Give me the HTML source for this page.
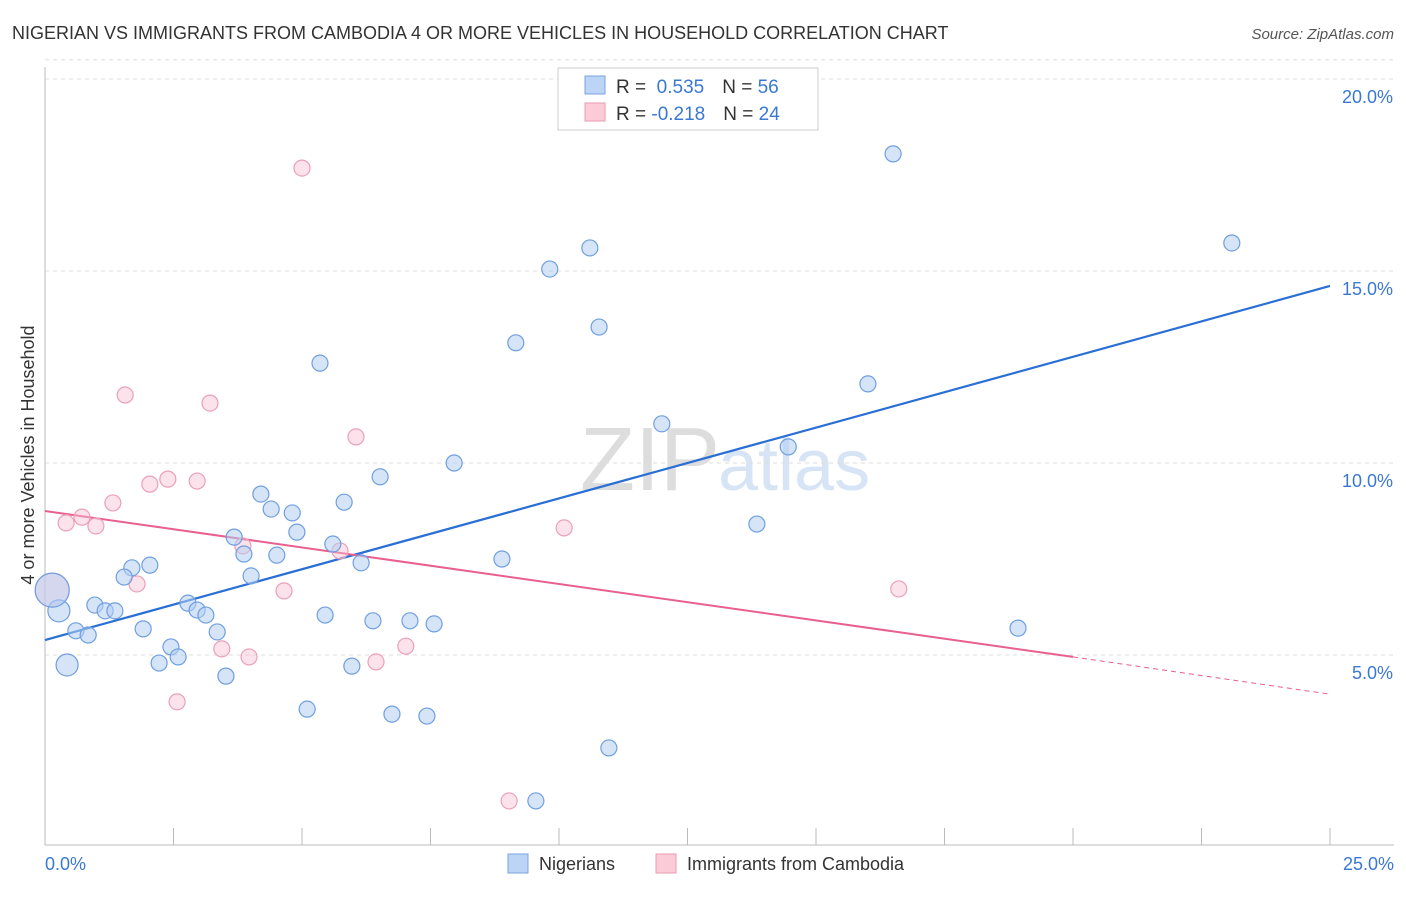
<!DOCTYPE html>
<html><head><meta charset="utf-8"><style>
body{margin:0;background:#fff;font-family:"Liberation Sans",sans-serif;}
svg text{font-family:"Liberation Sans",sans-serif;}
</style></head><body>
<svg id="chart" width="1406" height="892">
<text x="12" y="39" font-size="18" fill="#333">NIGERIAN VS IMMIGRANTS FROM CAMBODIA 4 OR MORE VEHICLES IN HOUSEHOLD CORRELATION CHART</text>
<text x="1394" y="39" font-size="15" fill="#555" font-style="italic" text-anchor="end">Source: ZipAtlas.com</text>
<text x="720" y="490" font-size="90" fill="#ddd" font-family="Liberation Serif" text-anchor="end">ZIP</text>
<text x="718" y="490" font-size="72" fill="#d6e4f5">atlas</text>
<g id="grid"></g>
<g id="axes"></g>
<g id="lines"></g>
<g id="pts"></g>
<text transform="translate(34,455) rotate(-90)" font-size="18" fill="#333" text-anchor="middle">4 or more Vehicles in Household</text>
<text x="45" y="870" font-size="18" fill="#3a78d4">0.0%</text>
<text x="1394" y="870" font-size="18" fill="#3a78d4" text-anchor="end">25.0%</text>
<g>
<rect x="558" y="68" width="260" height="62" fill="#fff" stroke="#ccc"/>
<rect x="585" y="76" width="20" height="18" fill="#bcd4f5" stroke="#7aa5e0"/>
<rect x="585" y="103" width="20" height="18" fill="#fbcbd8" stroke="#ec9ab2"/>
<text x="616" y="93" font-size="19" fill="#333">R = <tspan fill="#3a78d4">&#160;0.535</tspan><tspan dx="18">N = </tspan><tspan fill="#3a78d4">56</tspan></text>
<text x="616" y="120" font-size="19" fill="#333">R = <tspan fill="#3a78d4">-0.218</tspan><tspan dx="18">N = </tspan><tspan fill="#3a78d4">24</tspan></text>
</g>
<g>
<rect x="508" y="854" width="20" height="19" fill="#bcd4f5" stroke="#7aa5e0"/>
<text x="539" y="870" font-size="18" fill="#333">Nigerians</text>
<rect x="656" y="854" width="20" height="19" fill="#fbcbd8" stroke="#ec9ab2"/>
<text x="687" y="870" font-size="18" fill="#333">Immigrants from Cambodia</text>
</g>
</svg>
<script>
const yTicks=[5,10,15,20];
const yTickLabels=["5.0%","10.0%","15.0%","20.0%"];
const xTicks=[0,2.5,5,7.5,10,12.5,15,17.5,20,22.5,25];
const blueX=[16.50,23.09,10.60,9.82,10.78,9.16,5.35,16.01,12.00,14.46,7.96,6.52,4.20,5.82,4.40,4.81,4.90,3.68,5.60,3.87,4.51,8.89,6.15,2.04,1.69,1.54,4.01,0.97,2.78,1.17,1.36,2.96,3.13,5.45,0.27,6.38,7.10,7.57,18.93,1.91,0.60,0.84,3.35,2.45,2.59,2.22,5.97,0.43,3.52,5.10,6.75,7.43,10.97,9.55,0.14,13.85];
const blueY=[18.05,15.73,15.60,15.05,13.54,13.13,12.60,12.06,11.02,10.42,10.00,9.64,9.19,8.98,8.80,8.70,8.20,8.07,7.89,7.63,7.60,7.50,7.40,7.34,7.27,7.03,7.06,6.30,6.35,6.15,6.15,6.17,6.04,6.04,6.15,5.89,5.89,5.81,5.70,5.68,5.63,5.52,5.60,5.21,4.95,4.79,4.71,4.74,4.45,3.59,3.46,3.41,2.58,1.20,6.69,8.41];
const pinkX=[5.00,1.56,3.21,6.05,2.39,2.04,2.96,1.32,0.72,0.41,0.99,10.10,3.85,5.74,1.79,4.65,16.61,0.14,3.44,3.97,7.02,6.44,2.57,9.03];
const pinkY=[17.68,11.77,11.56,10.68,9.58,9.45,9.53,8.96,8.59,8.44,8.36,8.31,7.84,7.71,6.85,6.67,6.72,6.69,5.16,4.95,5.23,4.82,3.78,1.20];
const blueTrend=[[0,5.39],[25,14.61]];
const pinkTrend=[[0,8.75],[20,4.95],[25,3.98]];
const NS="http://www.w3.org/2000/svg";
const X=v=>45+v*51.4, Y=v=>655-(v-5)*38.4;
function mk(t,a,p){const e=document.createElementNS(NS,t);for(const k in a)e.setAttribute(k,a[k]);p.appendChild(e);return e;}
const grid=document.getElementById('grid'),axes=document.getElementById('axes'),lines=document.getElementById('lines'),pts=document.getElementById('pts');
yTicks.forEach((v,i)=>{
 const l=mk('line',{x1:45,x2:1394,y1:Y(v),y2:Y(v),stroke:'#ddd','stroke-dasharray':'4,4'},grid);
 
 
 const t=mk('text',{x:1393,y:Y(v)+24,'font-size':18,fill:'#3a78d4','text-anchor':'end'},axes);
 t.textContent=yTickLabels[i];
 
 
});
const tg=mk('line',{x1:45,x2:1394,y1:Y(20.5),y2:Y(20.5),stroke:'#ddd','stroke-dasharray':'4,4'},grid);


const ya=mk('line',{x1:45,x2:45,y1:67,y2:845,stroke:'#bbb'},axes);


const xa=mk('line',{x1:45,x2:1394,y1:845,y2:845,stroke:'#bbb'},axes);


xTicks.forEach(v=>{
 const t=mk('line',{x1:X(v),x2:X(v),y1:828,y2:845,stroke:'#bbb'},axes);
 
 
});
function pt(x,y,fill,stroke,r,name){
 const c=mk('circle',{cx:X(x),cy:Y(y),r:r,fill:fill,stroke:stroke,'stroke-width':1.2},pts);
 
 
}
pinkX.forEach((x,i)=>pt(x,pinkY[i],'rgba(248,190,208,0.45)','#eaa0b8',(x<0.2?17:8),'cambodia-point'));
blueX.forEach((x,i)=>pt(x,blueY[i],'rgba(180,205,242,0.55)','#6f9fe0',(x<0.2?17:(x<0.5?11:8)),'nigerian-point'));
const bl=mk('line',{x1:X(blueTrend[0][0]),y1:Y(blueTrend[0][1]),x2:X(blueTrend[1][0]),y2:Y(blueTrend[1][1]),stroke:'#2a6fd6','stroke-width':2.2},lines);


const pl=mk('line',{x1:X(pinkTrend[0][0]),y1:Y(pinkTrend[0][1]),x2:X(pinkTrend[1][0]),y2:Y(pinkTrend[1][1]),stroke:'#e8608c','stroke-width':2},lines);


const pd=mk('line',{x1:X(pinkTrend[1][0]),y1:Y(pinkTrend[1][1]),x2:X(pinkTrend[2][0]),y2:Y(pinkTrend[2][1]),stroke:'#e8608c','stroke-width':1,'stroke-dasharray':'5,4'},lines);


</script>
</body></html>
